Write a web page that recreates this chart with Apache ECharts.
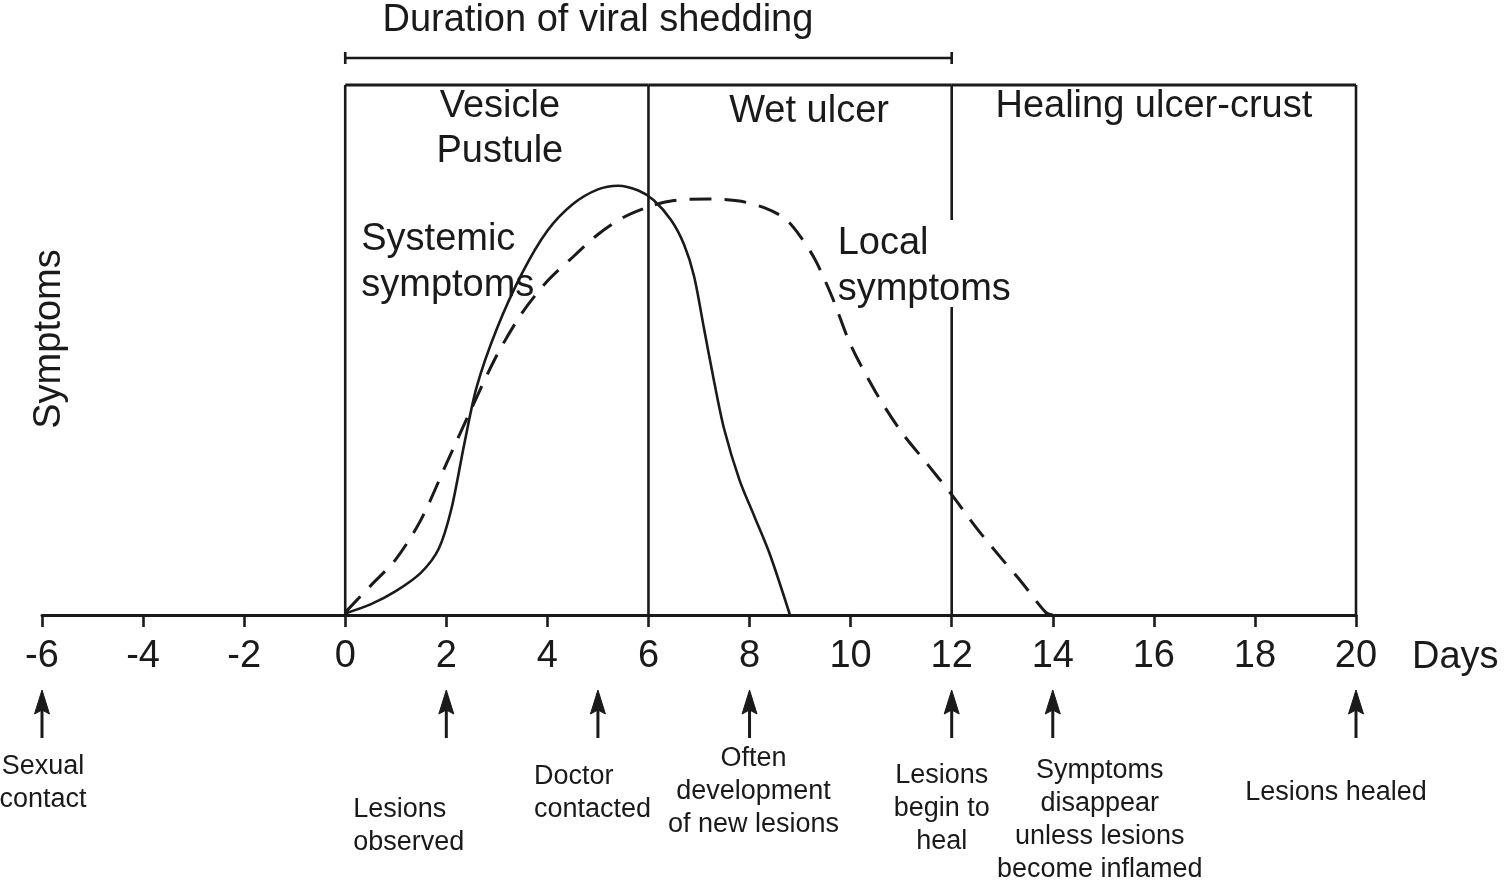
<!DOCTYPE html>
<html>
<head>
<meta charset="utf-8">
<script src="https://cdn.jsdelivr.net/npm/echarts@6/dist/echarts.min.js"></script>
<style>html,body{margin:0;padding:0;background:#fff}#c{width:1504px;height:886px}</style>
</head>
<body>
<div id="c"></div>
<script>
// ---------------- data ----------------
const systemicSymptoms = [
  [0,0.3],[0.5,2],[1,4.5],[1.5,8],[1.85,12.5],[2.1,20],[2.35,32],[2.6,43],[3,54],
  [3.5,64.5],[4,72.5],[4.5,77.5],[5,80.3],[5.4,81],[5.8,80.1],[6.1,78.3],[6.45,74.5],
  [6.7,70],[6.9,64],[7.1,54],[7.3,44],[7.5,35],[7.8,25.5],[8.1,18.5],[8.4,11.5],[8.8,0]
];
const localSymptoms = [
  [0,0.5],[0.5,5.5],[1,10.5],[1.5,18],[2,28.5],[2.5,39],[3,49],[3.5,57],[4,63],
  [4.5,67.5],[5,71.8],[5.5,75],[6,77],[6.5,78.2],[7.2,78.5],[7.8,78.1],[8.3,76.8],
  [8.7,74.8],[9,71.5],[9.3,67],[9.63,60.1],[10,51],[10.5,42],[11,34.6],[11.5,28.7],
  [12,22.7],[12.5,16.3],[13,10.5],[13.4,6],[13.86,0.5],[14,0]
];
const dayMin = -6;
const dayMax = 20;
const dayStep = 2;
const phaseBounds = [0, 6, 12, 20];
const phaseNames = ['Vesicle\nPustule', 'Wet ulcer', 'Healing ulcer-crust'];
const sheddingSpan = [0, 12];
const sheddingTitle = 'Duration of viral shedding';
const eventDays = [-6, 2, 5, 8, 12, 14, 20];
const eventNotes = [
  'Sexual\ncontact',
  'Lesions\nobserved',
  'Doctor\ncontacted',
  'Often\ndevelopment\nof new lesions',
  'Lesions\nbegin to\nheal',
  'Symptoms\ndisappear\nunless lesions\nbecome inflamed',
  'Lesions healed'
];
const curveNames = ['Systemic\nsymptoms', 'Local\nsymptoms'];
const yTitle = 'Symptoms';
const xTitle = 'Days';

// ---------------- styling / layout ----------------
const FONT = '"Liberation Sans", Arial, Helvetica, sans-serif';
const INK = '#1a1a1a';
const TOP = 100; // frame top in value units

function seg(a, b, w) {
  return {type:'line', shape:{x1:a[0], y1:a[1], x2:b[0], y2:b[1]},
          style:{stroke:INK, lineWidth:w || 2.6, lineCap:'butt'}};
}
function label(x, y, text, size, align, lh, rot) {
  return {type:'text', x:x, y:y, rotation: rot || 0,
          style:{text:text, fill:INK, fontSize:size, fontFamily:FONT,
                 align:align || 'center', verticalAlign:'middle', lineHeight:lh || size}};
}

// note layout: [dx from arrow, dy from axis, align]
const noteLayout = [
  [1, 168, 'center'],
  [-93, 211, 'left'],
  [-64, 178, 'left'],
  [4, 177, 'center'],
  [-10, 194, 'center'],
  [47, 205, 'center'],
  [-20, 178, 'center']
];
// phase label layout: [dx from phase middle, dy from frame top of first line]
const phaseLayout = [[3, 22], [9, 27], [0, 22]];

const chart = echarts.init(document.getElementById('c'));
chart.setOption({
  animation: false,
  backgroundColor: '#fff',
  grid: {left: 42, right: 148, top: 85, bottom: 271, containLabel: false, outerBoundsMode: 'none'},
  xAxis: {
    type: 'value', min: dayMin, max: dayMax, interval: dayStep,
    name: xTitle, nameLocation: 'end', nameGap: 56,
    nameTextStyle: {fontSize: 38, fontFamily: FONT, color: INK, verticalAlign: 'top', lineHeight: 38, padding: [24, 0, 0, 0]},
    axisLine: {onZero: true, lineStyle: {color: INK, width: 3}},
    axisTick: {show: true, length: 12, inside: false, lineStyle: {color: INK, width: 2.6}},
    axisLabel: {fontSize: 38, fontFamily: FONT, color: INK, margin: 23},
    splitLine: {show: false}
  },
  yAxis: {
    type: 'value', min: 0, max: 100, show: false
  },
  series: [
    {
      name: 'Systemic symptoms', type: 'line', data: systemicSymptoms,
      smooth: 0.3, showSymbol: false, clip: false, z: 5,
      lineStyle: {color: INK, width: 2.6}
    },
    {
      name: 'Local symptoms', type: 'line', data: localSymptoms,
      smooth: 0.3, showSymbol: false, clip: false, z: 4,
      lineStyle: {color: INK, width: 3, type: [22, 13]}
    },
    {
      // stage frame with phase labels
      name: 'phases', type: 'custom', z: 3,
      data: phaseBounds.map(d => [d, 0]),
      renderItem: function (params, api) {
        const i = params.dataIndex;
        const d = api.value(0);
        const top = api.coord([d, TOP]);
        const bot = api.coord([d, 0]);
        const ch = [];
        if (i === 2) {
          ch.push(seg(top, [top[0], top[1] + 135]));
          ch.push(seg([top[0], top[1] + 222], bot));
        } else {
          ch.push(seg(top, bot));
        }
        if (i < phaseBounds.length - 1) {
          const nt = api.coord([phaseBounds[i + 1], TOP]);
          ch.push(seg(top, nt, 3));
          const mid = (top[0] + nt[0]) / 2;
          const lines = phaseNames[i].split('\n').length;
          const lay = phaseLayout[i];
          ch.push(label(mid + lay[0], top[1] + lay[1] + (lines - 1) * 22.5, phaseNames[i], 38, 'center', 45));
        }
        return {type: 'group', children: ch};
      }
    },
    {
      // viral shedding bracket
      name: 'shedding', type: 'custom', z: 3,
      data: [sheddingSpan],
      renderItem: function (params, api) {
        const a = api.coord([api.value(0), TOP]);
        const b = api.coord([api.value(1), TOP]);
        const y = a[1] - 27;
        const ch = [
          seg([a[0], y], [b[0], y], 2.6),
          seg([a[0], y - 6], [a[0], y + 6], 2.6),
          seg([b[0], y - 6], [b[0], y + 6], 2.6)
        ];
        const tx = api.coord([(api.value(0) + api.value(1)) / 2 - 1, TOP]);
        ch.push(label(tx[0], y - 37, sheddingTitle, 38, 'center'));
        return {type: 'group', children: ch};
      }
    },
    {
      // curve labels and y title
      name: 'curveLabels', type: 'custom', z: 6,
      data: [[0, 0]],
      renderItem: function (params, api) {
        const o = api.coord([0, TOP]);
        const t = api.coord([12, TOP]);
        const yl = api.coord([dayMin, 50]);
        return {type: 'group', children: [
          label(o[0] + 16, o[1] + 178, curveNames[0], 38, 'left', 46),
          label(t[0] - 114, t[1] + 182, curveNames[1], 38, 'left', 46),
          label(yl[0] + 8, yl[1] - 11, yTitle, 38, 'center', 38, Math.PI / 2)
        ]};
      }
    },
    {
      // event arrows with notes
      name: 'events', type: 'custom', z: 3,
      data: eventDays.map(d => [d, 0]),
      renderItem: function (params, api) {
        const i = params.dataIndex;
        const p = api.coord([api.value(0), 0]);
        const x = p[0], y0 = p[1];
        const lay = noteLayout[i];
        return {type: 'group', children: [
          seg([x, y0 + 92], [x, y0 + 123], 3),
          {type: 'polygon', shape: {points: [[x, y0 + 75], [x - 7.5, y0 + 99], [x, y0 + 95], [x + 7.5, y0 + 99]]},
           style: {fill: INK, stroke: INK, lineWidth: 1}},
          label(x + lay[0], y0 + lay[1], eventNotes[i], 27, lay[2], 33)
        ]};
      }
    }
  ]
});
</script>
</body>
</html>
